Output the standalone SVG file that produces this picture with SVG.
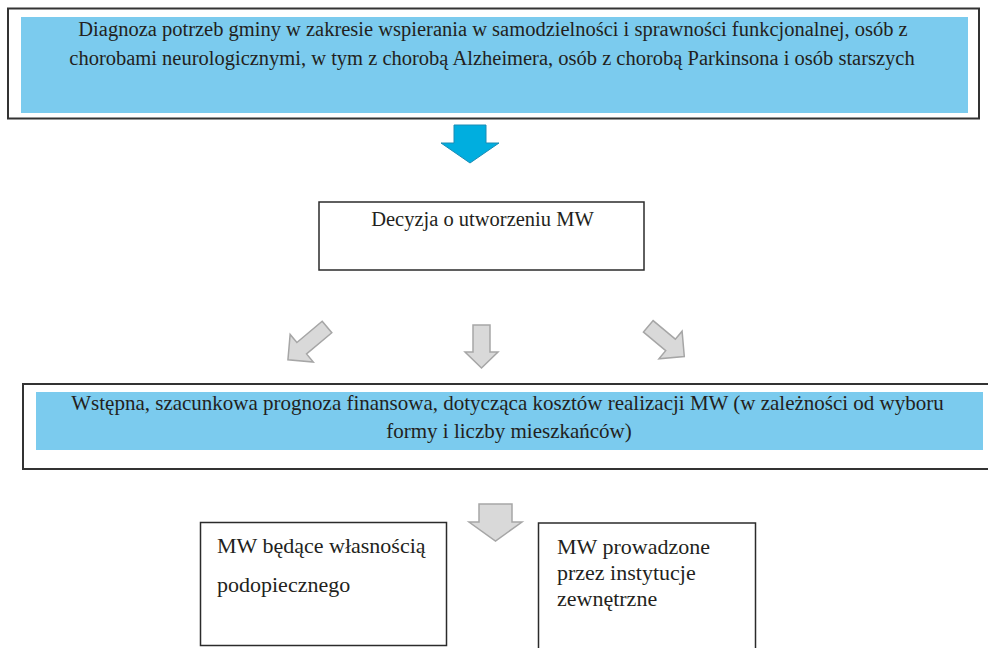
<svg xmlns="http://www.w3.org/2000/svg" width="988" height="648" viewBox="0 0 988 648">
  <style>
    .frame { fill: #ffffff; stroke: #333333; stroke-width: 2; }
    .box { fill: #ffffff; stroke: #2b2b2b; stroke-width: 1.5; }
    .band { fill: #7BCBEE; }
    .grey { fill: #D9D9D9; stroke: #A6A6A6; stroke-width: 1.5; }
    .blue { fill: #00AEDF; stroke: #1A8CB5; stroke-width: 1; }
  </style>
  <defs>
    <!-- diagonal grey arrows: tail centre at origin, pointing +y -->
    <polygon id="diagLong" points="-7.5,0 7.5,0 7.5,33 18,33 0,51 -18,33 -7.5,33"/>
    <polygon id="diagShort" points="-7.5,0 7.5,0 7.5,29 18,29 0,47 -18,29 -7.5,29"/>
  </defs>

  <rect width="988" height="648" fill="#ffffff"/>

  <g font-family="Liberation Serif" fill="#231F20">
    <g id="node-diagnoza">
      <rect class="frame" x="8" y="8.5" width="971" height="110"/>
      <rect class="band" x="21" y="17" width="947" height="96"/>
      <text x="493" y="36" font-size="20.5" text-anchor="middle">Diagnoza potrzeb gminy w zakresie wspierania w samodzielności i sprawności funkcjonalnej, osób z</text>
      <text x="492" y="65" font-size="20.5" text-anchor="middle">chorobami neurologicznymi, w tym z chorobą Alzheimera, osób z chorobą Parkinsona i osób starszych</text>
    </g>

    <g id="node-decyzja">
      <rect class="box" x="319" y="202" width="325" height="68"/>
      <text x="482.5" y="226" font-size="20.5" text-anchor="middle">Decyzja o utworzeniu MW</text>
    </g>

    <g id="node-prognoza">
      <rect class="frame" x="23" y="384" width="970" height="85"/>
      <rect class="band" x="36" y="392" width="947" height="58"/>
      <text x="507.5" y="410" font-size="21" text-anchor="middle">Wstępna, szacunkowa prognoza finansowa, dotycząca kosztów realizacji MW (w zależności od wyboru</text>
      <text x="509" y="438" font-size="21" text-anchor="middle">formy i liczby mieszkańców)</text>
    </g>

    <g id="node-wlasnosc">
      <rect class="box" x="200.5" y="522.5" width="246" height="123"/>
      <text x="217" y="553" font-size="22">MW będące własnością</text>
      <text x="217" y="592" font-size="22">podopiecznego</text>
    </g>

    <g id="node-zewnetrzne">
      <rect class="box" x="538.5" y="523" width="217" height="130"/>
      <text x="557" y="554" font-size="22">MW prowadzone</text>
      <text x="557" y="580" font-size="22">przez instytucje</text>
      <text x="557" y="606" font-size="22">zewnętrzne</text>
    </g>
  </g>

  <g id="connectors">
    <!-- diagnosis -> decision -->
    <polygon class="blue" points="454,125 486,125 486,143 499,143 470,163 441,143 454,143"/>
    <!-- decision -> three directions -->
    <use href="#diagLong" class="grey" transform="translate(327,327) rotate(50)"/>
    <polygon class="grey" points="473,325 490,325 490,352 498,352 481.5,368 465,352 473,352"/>
    <use href="#diagShort" class="grey" transform="translate(648.3,326.3) rotate(-50)"/>
    <!-- forecast -> forms -->
    <polygon class="grey" points="479,504 512,504 512,522 522,522 495.5,541 469,522 479,522"/>
  </g>
</svg>
